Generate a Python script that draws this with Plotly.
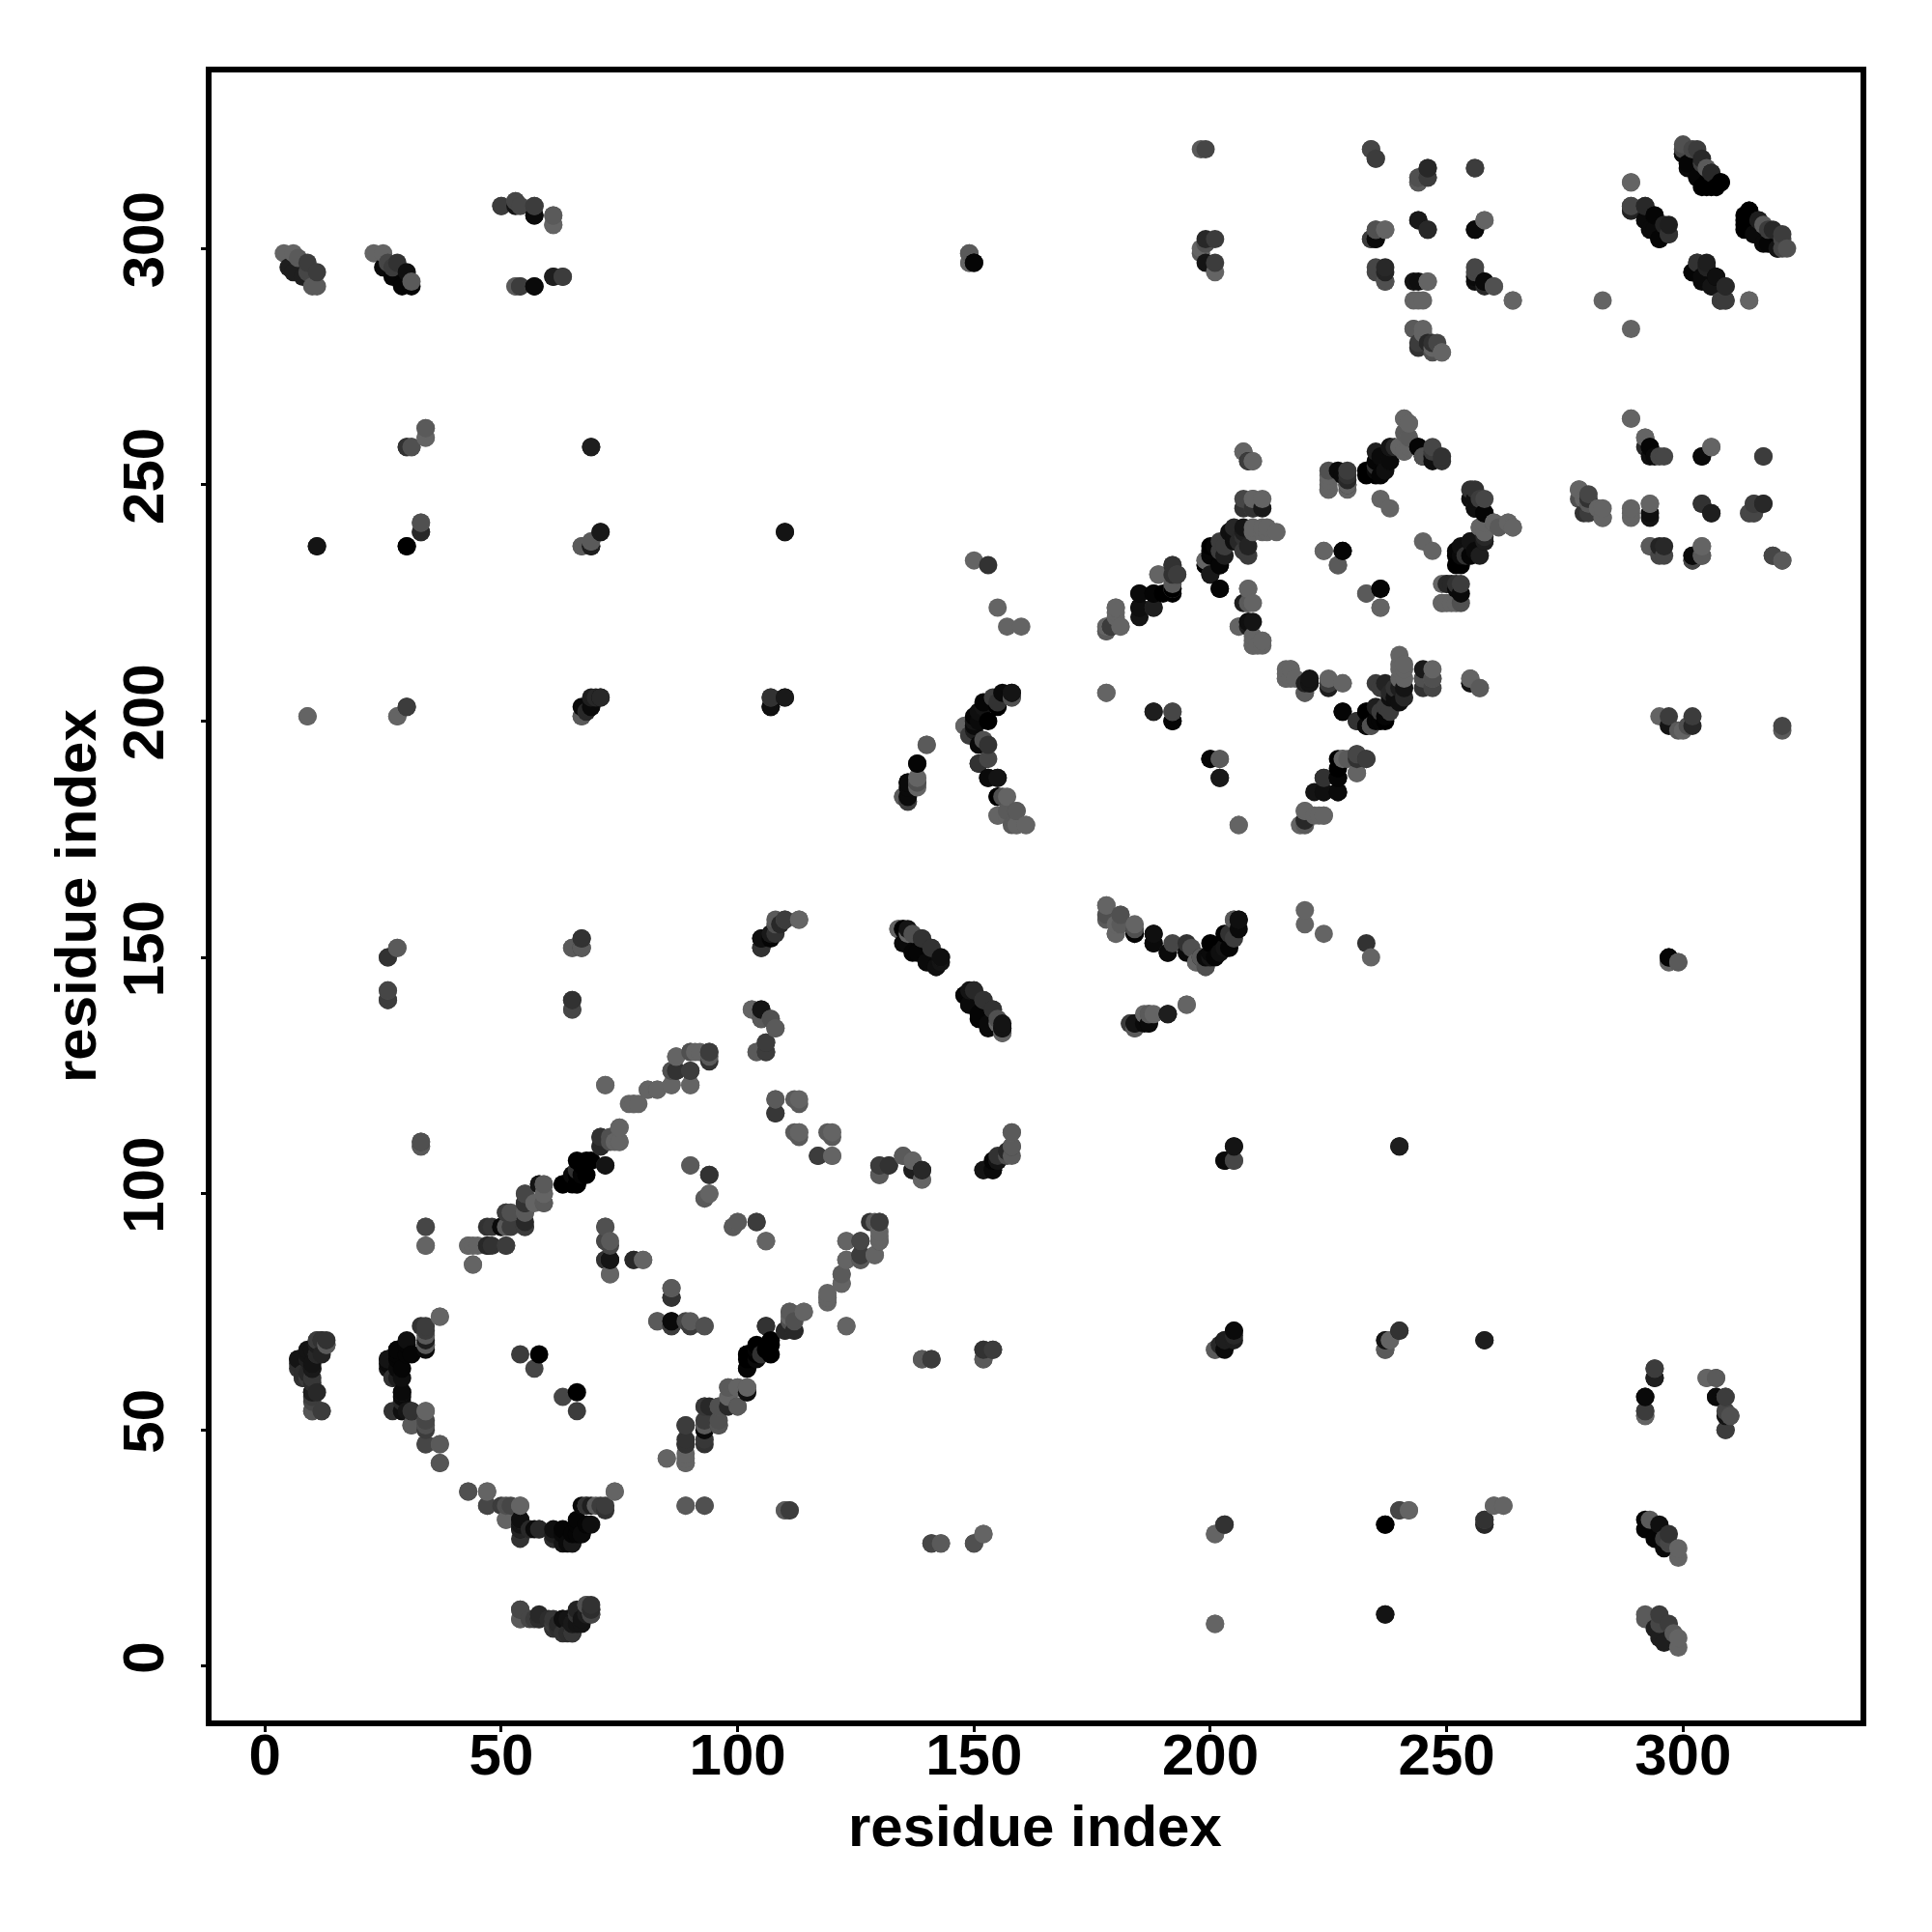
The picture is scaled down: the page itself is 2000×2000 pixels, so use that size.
import plotly.graph_objects as go

# contacts: (residue a, residue b, darkness score 0=black .. 110=lightest)
helix_pair_a = [(7,63,50),(7,65,55),(7,64,45),(8,61,50),(8,62,45),(9,62,40),(10,61,55),(10,60,45),(10,58,45),(10,57,60),
    (10,54,90),(12,54,70),(11,58,40),(10,63,15),(10,64,20),(9,66,20),(9,65,25),(10,67,20),(11,66,50),(12,66,35),
    (11,69,70),(13,68,80),(12,69,45),(13,69,50)]
helix_pair_b = [(26,63,20),(26,65,25),(26,64,10),(27,61,45),(29,58,40),(29,57,10),(29,61,15),(29,63,5),(28,66,5),(28,67,10),
    (30,68,5),(31,66,5),(34,68,50),(34,67,10),(34,70,90),(34,72,60),(37,74,100),(27,54,50),(29,54,35),(31,54,15),(34,54,100),
    (31,51,100),(34,52,70),(34,50,60),(34,47,70),(37,47,100),(37,43,80)]
arc_low = [(43,37,85),(47,37,90),(47,34,70),(51,34,80),(54,34,100),(51,31,90),(54,31,50),(54,29,15),(54,30,20),(58,29,10),
    (56,29,40),(61,28,30),(61,27,50),(63,28,10),(65,26,20),(65,28,5),(67,28,5),(66,30,5),(69,30,15),(69,34,30),(68,34,90),
    (71,34,60),(72,33,50),(74,37,100)]
arc_bottom = [(54,12,60),(54,10,85),(56,10,70),(58,10,30),(61,9,60),(61,8,50),(63,10,25),(65,7,20),(65,9,30),(67,9,20),
    (66,11,40),(68,11,30),(68,13,90),(69,12,50),(69,11,60)]
band_upper = [(44,85,100),(43,89,100),(45,89,100),(47,89,50),(48,89,50),(51,89,60),(48,93,55),(50,93,10),(52,93,60),(55,93,55),
    (51,96,85),(52,96,80),(55,94,40),(55,98,40),(55,96,80),(55,100,90),(59,102,100),(59,100,100),(59,98,90),(58,102,15),
    (63,102,5),(65,102,0),(66,102,0),(65,104,10),(67,104,5),(67,106,0),(69,107,0),(72,106,50),(71,110,40),(71,112,40),
    (73,112,80),(74,111,100),(75,111,90),(75,114,100),(72,123,100),(78,119,100),(79,119,100),(81,122,100),(83,122,90),
    (86,123,100),(90,123,100),(87,126,60),(86,126,90),(90,126,70),(87,129,100),(90,130,100),(91,130,100),(94,130,60),(94,129,90)]
band_side = [(65,141,60),(65,139,90),(103,139,100),(105,139,40),(105,137,30),(107,137,100),(108,135,90),(106,132,50),(104,130,90),(106,130,60),
    (108,120,100),(108,117,60),(112,120,90),(113,120,100),(113,119,90),(112,113,90),(113,113,100),(117,108,55),(120,108,90),
    (130,106,60),(130,104,90),(132,106,60),(135,108,90),(137,107,80),(137,105,90),(139,105,20),(139,103,100)]
inside_a = [(90,106,100),(94,104,60),(94,100,90),(93,99,90),(99,93,90),(100,94,100),(104,94,50),(106,90,90),(72,93,80),(72,90,60),
    (73,89,70),(72,86,60),(73,86,10),(73,83,90),(78,86,50),(80,86,90),(86,80,100),(86,78,40),(83,73,100),(86,73,20),(86,72,50),
    (90,73,90),(90,72,70),(93,72,80),(54,66,60),(58,66,0),(57,63,70)]
band_lower = [(130,94,60),(128,94,50),(130,92,100),(130,90,80),(126,90,60),(123,90,100),(123,86,100),(126,87,50),(126,86,80),(129,87,100),
    (122,83,100),(122,81,100),(119,78,100),(119,77,100),(123,72,100),(114,75,100),(111,75,100),(111,73,80),(112,71,50),(110,71,40),
    (106,72,20),(107,68,0),(107,66,0),(105,66,50),(104,68,0),(104,66,0),(102,66,0),(102,63,0),(102,58,20),(102,59,90),(98,59,90),(100,59,100),
    (98,57,100),(100,55,70),(96,55,90),(98,55,50),(93,55,60),(93,50,10),(93,51,90),(96,51,60),(89,51,60),(89,47,40),(93,47,50),
    (89,44,100),(89,43,100),(85,44,100),(89,34,100),(93,34,70)]
far_left = [(26,150,80),(28,152,100),(26,143,90),(26,141,70),(33,111,60),(33,110,90),(34,93,80),(34,89,90),(11,237,20),(30,237,0),
    (33,240,70),(33,242,100),(30,258,40),(31,258,50),(34,260,100),(34,262,100),(9,201,100),(28,201,100),(30,203,50),
    (69,258,30),(67,237,90),(69,237,20),(69,238,100),(71,240,50),(67,201,90),(67,203,10),(69,203,30),(69,205,30),(71,205,10),
    (65,152,90),(67,152,50),(67,154,60),(105,152,20),(105,154,10),(107,155,20),(108,157,80),(110,158,90),(113,158,90),
    (110,240,30),(107,205,70),(107,203,10),(110,205,20)]
strand_134 = [(134,156,100),(135,156,20),(135,153,10),(137,155,80),(137,151,5),(139,154,50),(140,149,10),(141,152,50),(142,148,5),(143,149,20),(143,150,40),
    (148,142,15),(150,143,15),(149,140,10),(152,141,50),(151,138,5),(154,139,50),(153,136,10),(155,136,100),(156,134,100),(156,135,0),(156,136,20)]
arc_178 = [(178,161,100),(178,159,100),(181,159,90),(180,155,100),(180,157,100),(184,155,0),(184,157,100),(188,155,20),(188,153,10),(192,153,70),
    (191,151,50),(195,151,10),(197,149,60),(199,148,100),(198,150,30),(199,150,10),(200,153,0),(203,155,0),(204,152,5),(201,150,5),
    (205,158,80),(206,158,20),(206,156,10),(205,154,60),(183,136,60),(184,135,90),(184,136,10),(187,136,10),(187,138,80),(188,138,100),(191,138,5),(195,140,90)]
cross_107 = [(205,110,25),(203,107,15),(205,107,50),(158,113,100),(158,110,60),(158,108,90),(157,109,40),(155,108,50),(155,107,25),(154,107,5),(152,105,50),(154,105,15)]
wing_136 = [(135,184,90),(136,183,60),(136,184,20),(136,186,10),(136,187,10),(138,187,90),(138,186,100),(138,191,30),(140,195,100),
    (148,199,80),(149,197,100),(150,198,90),(150,200,20),(151,200,10),(151,202,15),(152,203,20),(155,204,50),(158,205,90),(158,206,15),
    (152,196,80),(151,191,10),(153,195,50),(153,188,10),(155,188,15),(155,184,5),(156,184,80),(155,180,100),(157,181,90),(159,181,80),(159,178,80),(158,178,90),(161,178,100)]
strand_178 = [(178,219,100),(178,220,90),(179,220,40),(180,224,100),(180,222,100),(181,220,100),(185,227,10),(185,224,15),(185,222,20),(188,227,5),(188,224,50),
    (192,227,0),(192,228,100),(189,231,100),(192,233,60),(192,231,50),(193,231,70),(199,234,80),(199,233,10),(200,231,50),(202,228,5),(200,237,0),(202,233,0),
    (200,235,5),(203,237,60),(203,235,30),(205,239,15),(207,240,30),(208,237,35),(208,235,60),(206,238,40),(207,241,20),(209,240,100),(211,240,100),(212,240,100),(214,240,100),
    (207,257,90),(208,255,20),(209,255,100),(209,245,80),(211,245,25),(211,247,100),(209,247,80),(208,228,100),(208,225,60),(209,225,100),(206,220,90),(208,221,20),(209,221,20),(209,217,100),(211,217,100),(209,216,100),(210,216,100),
    (178,206,100),(188,202,25),(192,200,5),(192,202,90),(200,192,5),(202,192,70),(202,188,30),(206,178,100)]
strand_178b = [(219,178,90),(220,178,100),(220,179,60),(220,181,100),(223,180,100),(224,180,100),(224,185,15),(227,185,10),(224,188,30),(227,188,5),(227,190,0),(228,192,0),(229,192,90),(231,193,60),(233,192,50),(231,189,100),
    (228,202,5),(231,200,25),(233,202,5),(233,199,0),(234,199,100),(236,200,5),(237,201,5),(236,202,60),(238,202,60),(240,204,15),(238,205,15),(236,207,60),(241,205,40),(239,207,50),(241,209,100),(241,211,100),(241,212,100),
    (245,209,50),(245,207,50),(247,209,100),(247,207,70),(255,208,60),(255,209,100),(257,207,100),(216,209,100),(216,211,100),(217,211,100),(218,209,100),(220,206,100),(220,208,30),(221,208,15),(225,208,90),(225,207,30),(228,208,100)]
arc_250 = [(225,252,100),(225,250,100),(225,249,100),(229,250,40),(229,249,100),(228,252,10),(229,252,50),(233,252,0),(235,252,0),(236,252,5),(235,255,5),(235,257,30),(238,255,20),(238,258,30),
    (240,258,100),(241,264,100),(242,263,100),(242,260,100),(241,257,100),(242,258,100),(244,258,5),(245,256,15),(247,257,60),(247,255,15),(249,255,50),(236,247,100),(238,245,100),
    (224,236,100),(228,236,5),(227,233,90),(236,224,100),(236,228,5),(233,227,90),
    (256,249,50),(256,247,15),(258,247,70),(256,245,10),(258,244,5),(256,245,80),(260,242,90),(263,242,100),(264,241,100),(261,241,90),(257,241,100),(258,240,100),
    (253,233,0),(253,235,10),(253,237,15),(254,235,50),(255,238,10),(256,236,10),(258,238,20),(258,239,40),
    (250,229,100),(251,229,40),(253,229,60),(253,227,10),(249,225,100),(251,225,100),(253,225,80)]
top_mid = [(234,321,90),(235,319,70),(244,314,70),(244,315,70),(246,315,60),(246,317,40),(256,317,60),(235,304,90),(237,304,100),(234,302,70),(235,302,10),(244,306,30),(246,304,50),
    (256,304,10),(258,306,100),(235,295,70),(237,293,90),(237,295,35),(244,293,15),(246,293,100),(256,295,70),(256,293,15),(258,293,5),(260,292,100),(244,289,100),(245,289,100),(264,289,100),
    (244,279,50),(243,283,100),(245,283,100),(247,279,100),(247,280,50),(246,280,90),(249,278,100)]
top_right = [(300,321,70),(300,320,20),(302,321,70),(301,317,10),(304,319,40),(303,315,10),(305,317,90),(306,316,30),(305,314,0),(305,313,0),(308,314,0),(307,313,0),(289,314,100),
    (289,308,60),(289,309,60),(292,309,40),(294,307,15),(292,306,20),(296,305,35),(294,304,10),(297,303,50),(295,302,5),
    (303,297,50),(302,295,5),(305,297,30),(304,293,10),(307,294,5),(306,292,10),(309,292,40),(308,289,35),(309,289,70),(314,289,100),(283,289,100),
    (314,308,0),(313,306,0),(313,304,0),(316,306,40),(318,304,60),(315,303,5),(318,301,5),(321,303,60),(320,300,10),(322,300,80)]
right_250 = [(289,264,100),(292,260,80),(292,258,40),(293,258,10),(296,256,70),(294,256,10),(306,258,100),(304,256,10),(317,256,60),
    (278,249,100),(278,247,80),(280,248,70),(280,246,40),(280,244,60),(282,245,100),(283,243,90),(289,243,100),(293,246,100),(293,243,20),(304,246,40),(306,244,25),(315,246,60),(317,246,40),(314,244,90),(315,244,80),
    (293,237,80),(296,237,40),(296,235,70),(302,235,10),(302,234,60),(304,237,100),(304,235,80),(319,235,60),(321,234,70)]
right_50 = [(294,61,30),(294,63,60),(292,57,10),(292,53,90),(292,54,60),(305,61,100),(307,61,90),(307,57,10),(309,57,60),(309,53,20),(310,53,70),(309,50,60)]
top_left_a = [(4,299,100),(6,299,100),(5,296,30),(6,295,30),(9,297,60),(8,294,30),(11,295,60),(10,292,90),(11,292,90),(7,298,90),(9,295,70)]
top_left_b = [(23,299,100),(25,299,100),(26,297,70),(28,297,50),(25,296,10),(27,294,5),(30,295,15),(29,292,5),(31,292,5),(31,293,90),(27,296,60)]
top_left_c = [(50,309,60),(53,310,80),(54,309,70),(57,309,60),(57,307,10),(61,307,90),(61,305,100),(53,292,100),(54,292,60),(57,292,10),(61,294,30),(63,294,60)]
scattered = [(201,67,90),(202,68,40),(203,69,10),(205,70,40),(205,71,40),(201,28,100),(203,30,60),(201,9,100),(237,67,90),(237,69,30),(238,69,90),(240,71,25),(240,110,20),(258,69,30),
    (237,11,20),(237,30,0),(240,33,40),(242,33,80),(258,30,50),(258,31,80),(260,34,100),(262,34,90),(139,65,70),(141,65,50),(152,67,90),(152,65,90),(154,67,50),
    (141,26,60),(143,26,70),(150,26,50),(152,28,90),(110,33,90),(111,33,80),(233,153,50),(234,150,100),(220,160,100),(220,157,100),(224,155,100),
    (297,150,5),(297,149,100),(299,149,90),(198,321,90),(199,321,70),(201,295,100),(201,297,60),(199,297,20),(198,299,90),(198,300,100),(199,302,40),(201,302,60),(199,301,80),
    (149,299,90),(150,297,5),(149,297,100)]

tick_values = [0, 50, 100, 150, 200, 250, 300]
axis_title = "residue index"

groups = [helix_pair_a, helix_pair_b, arc_low, arc_bottom, band_upper, band_side, inside_a, band_lower, far_left,
          strand_134, arc_178, cross_107, wing_136, strand_178, strand_178b, arc_250, top_mid, top_right, right_250, right_50,
          top_left_a, top_left_b, top_left_c, scattered]
rows = [r for g in groups for r in g]
points = sorted([(r[0], r[1], r[2]) for r in rows] + [(r[1], r[0], r[2]) for r in rows], key=lambda p: (p[0], p[1]))
x = [p[0] for p in points]
y = [p[1] for p in points]
score = [p[2] for p in points]

fig = go.Figure(go.Scatter(
    x=x, y=y, mode="markers", hoverinfo="skip",
    marker=dict(size=19, color=score, cmin=0, cmax=110,
                colorscale=[[0, "#000000"], [1, "#6e6e6e"]], showscale=False, line=dict(width=0)),
))
font = dict(family="Liberation Sans", size=60, color="black", weight=700)
W = 2000.0
axis = dict(tickmode="array", tickvals=tick_values, ticktext=[str(v) for v in tick_values],
            ticks="outside", ticklen=6, tickwidth=2.5, tickcolor="black",
            showline=True, mirror=True, linewidth=5.5, linecolor="black",
            showgrid=False, zeroline=False, tickfont=font)
fig.update_layout(
    width=2000, height=2000, margin=dict(l=0, r=0, t=0, b=0, autoexpand=False),
    plot_bgcolor="white", paper_bgcolor="white", showlegend=False,
    xaxis=dict(axis, domain=[211.25 / W, 1917.75 / W], range=[-11.25, 337.5], ticklabelstandoff=-28),
    yaxis=dict(axis, domain=[1 - 1773.25 / W, 1 - 66.75 / W], range=[-11.5, 337.3], tickangle=-90, ticklabelstandoff=15),
    annotations=[
        dict(text=axis_title, font=font, showarrow=False, xref="paper", yref="paper",
             x=1063 / W, y=1 - 1882.5 / W, xanchor="center", yanchor="middle"),
        dict(text=axis_title, font=font, showarrow=False, xref="paper", yref="paper", textangle=-90,
             x=71 / W, y=1 - 920 / W, xanchor="center", yanchor="middle"),
    ],
)
fig.write_html("out.html")
